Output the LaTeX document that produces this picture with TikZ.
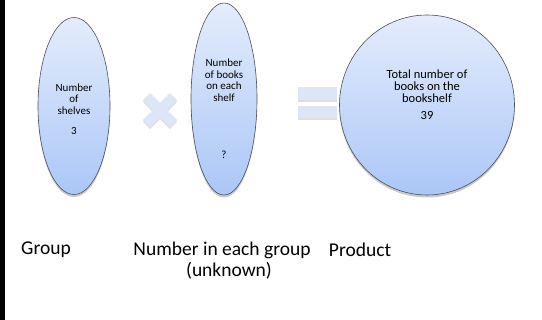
\documentclass[tikz,border=0pt]{standalone}
\usepackage{fontspec}
\setmainfont{Carlito}
\usetikzlibrary{shapes.geometric,shadows}
\definecolor{ovtop}{HTML}{E4ECFC}
\definecolor{ovbot}{HTML}{ABC7F7}
\definecolor{ovline}{HTML}{4A4F5A}
\definecolor{signfill}{HTML}{DDE6F7}
\tikzset{
  oval/.style={ellipse, draw=ovline, line width=0.6pt, top color=ovtop, bottom color=ovbot,
    inner sep=0pt, drop shadow={shadow xshift=0pt, shadow yshift=-2.5pt, opacity=0.35, fill=black!60}},
  intext/.style={align=center, font=\fontsize{11}{11.5}\selectfont, inner sep=0pt},
  bigintext/.style={align=center, font=\fontsize{12.5}{12}\selectfont, inner sep=0pt},
  bottomtext/.style={align=center, font=\fontsize{19.5}{24}\selectfont, inner sep=0pt},
  signshape/.style={fill=signfill, drop shadow={shadow xshift=0pt, shadow yshift=-2pt, opacity=0.25, fill=black!50}}
}
\begin{document}
\begin{tikzpicture}[x=1pt,y=-1pt]
\useasboundingbox (0,0) rectangle (542,320);
\fill[white] (0,0) rectangle (542,320);
\fill[black] (0,0) rectangle (5,320);
% ovals
\node[oval, minimum width=72pt, minimum height=177pt] (o1) at (74,106) {};
\node[oval, minimum width=66pt, minimum height=192pt] (o2) at (224,99) {};
\node[oval, minimum width=175pt, minimum height=180pt] (o3) at (427,105) {};
% texts in ovals
\node[intext] (t1) at (74,99) {Number\\of\\shelves};
\node[intext] (t1n) at (74,131) {3};
\node[intext] (t2) at (224,80) {Number\\of books\\on each\\shelf};
\node[intext] (t2n) at (224,155) {?};
\node[bigintext] (t3) at (427,86) {Total number of\\books on the\\bookshelf};
\node[bigintext] (t3n) at (427,115) {39};
% times sign
\path[signshape, rotate around={45:(160,110)}]
  (141,105) rectangle (179,115)
  (155,91) rectangle (165,129);
% equals sign
\path[signshape] (298,87) rectangle (337,100);
\path[signshape] (298,106) rectangle (337,118);
% bottom labels
\node[bottomtext] (g) at (46,250) {Group};
\node[bottomtext] (n) at (222,250) {Number in each group};
\node[bottomtext] (u) at (229,271) {(unknown)};
\node[bottomtext] (p) at (360,250) {Product};
\end{tikzpicture}
\end{document}
